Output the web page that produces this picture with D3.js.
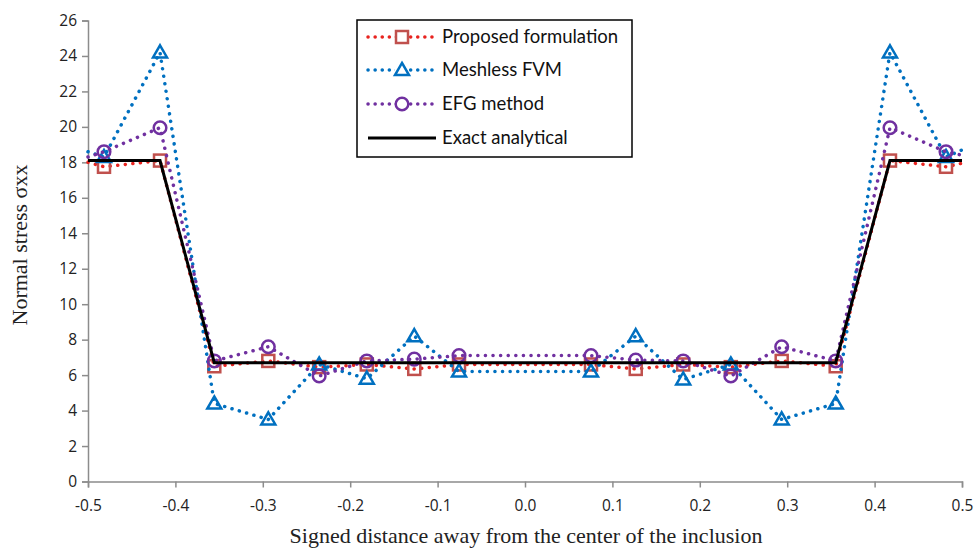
<!DOCTYPE html>
<html>
<head>
<meta charset="utf-8">
<script src="https://cdn.jsdelivr.net/npm/d3@7"></script>
<style>
  body { margin: 0; background: #fff; }
  svg { display: block; }
</style>
</head>
<body>
<div id="chart"></div>
<script>
// x positions of the sample points (edges at -0.5 / 0.5 carry no marker)
const xs = [-0.5, -0.4817, -0.4176, -0.3555, -0.2937, -0.2355, -0.181, -0.1267, -0.0755,
  0.0755, 0.1267, 0.181, 0.2355, 0.2937, 0.3555, 0.4176, 0.4817, 0.5]

const proposed = [18.0, 17.75, 18.1, 6.5, 6.8, 6.45, 6.6, 6.35, 6.6,
  6.6, 6.35, 6.6, 6.45, 6.8, 6.5, 18.1, 17.75, 17.95]
const meshless = [18.6, 18.3, 24.2, 4.4, 3.5, 6.6, 5.8, 8.2, 6.2,
  6.2, 8.2, 5.75, 6.6, 3.5, 4.4, 24.2, 18.3, 18.7]
const efg = [18.3, 18.6, 19.95, 6.8, 7.6, 5.95, 6.8, 6.9, 7.1,
  7.1, 6.85, 6.8, 5.95, 7.6, 6.8, 19.95, 18.6, 18.4]

const exactX = [-0.5, -0.4176, -0.3555, 0.3555, 0.4176, 0.5]
const exactY = [18.1, 18.1, 6.7, 6.7, 18.1, 18.1]

const xTicks = [-0.5, -0.4, -0.3, -0.2, -0.1, 0.0, 0.1, 0.2, 0.3, 0.4, 0.5]
const yTicks = [0, 2, 4, 6, 8, 10, 12, 14, 16, 18, 20, 22, 24, 26]

const legendNames = ['Proposed formulation', 'Meshless FVM', 'EFG method', 'Exact analytical']

const W = 974, H = 550
const x = d3.scaleLinear().domain([-0.5, 0.5]).range([88, 962])
const y = d3.scaleLinear().domain([0, 26]).range([481.5, 20.5])

const svg = d3.select('#chart').append('svg')
  .attr('width', W)
  .attr('height', H)

/* Axes */
const axisColor = '#8c8c8c'
const xAxis = svg.append('g')
  .attr('transform', 'translate(0,' + y(0) + ')')
  .call(d3.axisBottom(x).tickValues(xTicks).tickSize(6)
    .tickFormat(d => d.toFixed(1)))
const yAxis = svg.append('g')
  .attr('transform', 'translate(' + x(-0.5) + ',0)')
  .call(d3.axisLeft(y).tickValues(yTicks).tickSize(6).tickFormat(d => String(d)))

;[xAxis, yAxis].forEach(a => {
  a.select('.domain').attr('stroke', axisColor).attr('stroke-width', 1.5)
  a.selectAll('.tick line').attr('stroke', axisColor).attr('stroke-width', 1.5)
  a.selectAll('.tick text')
    .attr('fill', '#222')
    .style('font-family', '"Open Sans", sans-serif')
    .style('font-size', '15.5px')
})
xAxis.selectAll('.tick text').attr('dy', '1.35em')
yAxis.selectAll('.tick text').attr('x', -11)

/* Axis titles */
svg.append('text')
  .attr('x', 526).attr('y', 543)
  .attr('text-anchor', 'middle')
  .style('font-family', '"Liberation Serif", "DejaVu Serif", serif')
  .style('font-size', '22px')
  .attr('fill', '#222')
  .text('Signed distance away from the center of the inclusion')

svg.append('text')
  .attr('transform', 'translate(27,' + 245 + ') rotate(-90)')
  .attr('text-anchor', 'middle')
  .style('font-family', '"Liberation Serif", "DejaVu Serif", serif')
  .style('font-size', '22px')
  .attr('fill', '#222')
  .text('Normal stress σxx')

/* Series */
const series = [
  { name: legendNames[0], vals: proposed, line: '#e8231f', mark: '#c0504d', shape: 'square' },
  { name: legendNames[1], vals: meshless, line: '#0070c0', mark: '#0070c0', shape: 'triangle' },
  { name: legendNames[2], vals: efg, line: '#7030a0', mark: '#7030a0', shape: 'circle' },
]

const line = d3.line().x(d => x(d[0])).y(d => y(d[1]))

function drawMarker(g, shape, color, cx, cy) {
  if (shape === 'square') {
    g.append('rect')
      .attr('x', cx - 6).attr('y', cy - 6)
      .attr('width', 12).attr('height', 12)
      .attr('fill', 'none').attr('stroke', color).attr('stroke-width', 2.5)
  } else if (shape === 'triangle') {
    const s = d3.symbol().type(d3.symbolTriangle).size(85)
    g.append('path')
      .attr('d', s())
      .attr('transform', 'translate(' + cx + ',' + (cy + 1) + ')')
      .attr('fill', 'none').attr('stroke', color).attr('stroke-width', 2.5)
  } else {
    g.append('circle')
      .attr('cx', cx).attr('cy', cy).attr('r', 6.3)
      .attr('fill', 'none').attr('stroke', color).attr('stroke-width', 2.5)
  }
}

const plot = svg.append('g')
series.forEach(s => {
  const g = plot.append('g')
  const pts = xs.map((v, i) => [v, s.vals[i]])
  g.append('path')
    .attr('d', line(pts))
    .attr('fill', 'none')
    .attr('stroke', s.line)
    .attr('stroke-width', 3.5)
    .attr('stroke-linecap', 'round')
    .attr('stroke-dasharray', '0.1 7.5')
  pts.slice(1, -1).forEach(p => drawMarker(g, s.shape, s.mark, x(p[0]), y(p[1])))
})

plot.append('path')
  .attr('d', line(exactX.map((v, i) => [v, exactY[i]])))
  .attr('fill', 'none')
  .attr('stroke', '#000')
  .attr('stroke-width', 3)

/* Legend */
const legend = svg.append('g')
legend.append('rect')
  .attr('x', 357).attr('y', 20)
  .attr('width', 275).attr('height', 137)
  .attr('fill', '#fff')
  .attr('stroke', '#000')
  .attr('stroke-width', 1.5)

const rowY = [37, 70, 104, 138]
legendNames.forEach((name, i) => {
  const ly = rowY[i]
  const g = legend.append('g')
  if (i < 3) {
    const s = series[i]
    g.append('line')
      .attr('x1', 368).attr('x2', 437).attr('y1', ly).attr('y2', ly)
      .attr('stroke', s.line).attr('stroke-width', 3.5)
      .attr('stroke-linecap', 'round').attr('stroke-dasharray', '0.1 7')
    g.append('rect').attr('x', 395).attr('y', ly - 6).attr('width', 14).attr('height', 12).attr('fill', '#fff')
    drawMarker(g, s.shape, s.mark, 402, ly)
  } else {
    g.append('line')
      .attr('x1', 368).attr('x2', 436).attr('y1', ly).attr('y2', ly)
      .attr('stroke', '#000').attr('stroke-width', 3)
  }
  g.append('text')
    .attr('x', 442).attr('y', ly)
    .attr('dy', '0.35em')
    .style('font-family', 'Lato, "Open Sans", sans-serif')
    .style('font-size', '18.5px')
    .attr('fill', '#111')
    .text(name)
})
</script>
</body>
</html>
